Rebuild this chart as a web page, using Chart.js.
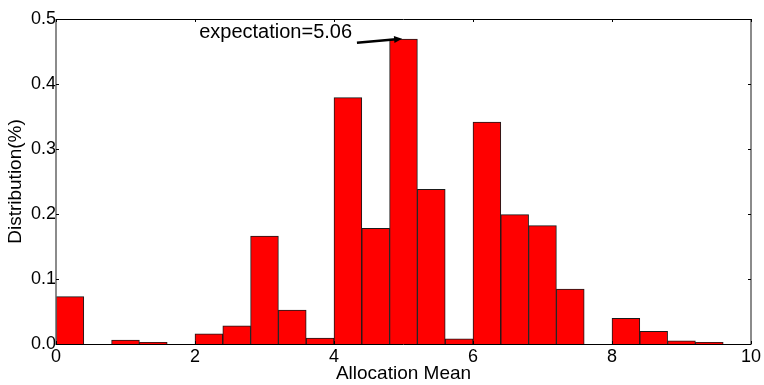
<!DOCTYPE html>
<html>
<head>
<meta charset="utf-8">
<script src="https://cdn.jsdelivr.net/npm/chart.js@4.4.0/dist/chart.umd.min.js"></script>
<style>
  html, body { margin: 0; padding: 0; background: #fff; }
  #wrap { width: 764px; height: 385px; }
</style>
</head>
<body>
<div id="wrap"><canvas id="histChart" width="764" height="385"></canvas></div>
<script>
// histogram bins (centre of each 0.4 wide bin) and their heights
const binCenters = [0.2, 0.6, 1.0, 1.4, 1.8, 2.2, 2.6, 3.0, 3.4, 3.8, 4.2, 4.6, 5.0, 5.4, 5.8, 6.2, 6.6, 7.0, 7.4, 7.8, 8.2, 8.6, 9.0, 9.4, 9.8];
const distribution = [0.073, 0, 0.006, 0.0025, 0, 0.0155, 0.028, 0.166, 0.052, 0.009, 0.379, 0.178, 0.469, 0.238, 0.008, 0.3415, 0.199, 0.182, 0.0845, 0, 0.0395, 0.0195, 0.005, 0.0025, 0];

const xTicks = [0, 2, 4, 6, 8, 10];
const yTicks = [0, 0.1, 0.2, 0.3, 0.4, 0.5];

// annotation, in data units
const expectationText = 'expectation=5.06';
const textPos = { x: 2.06, y: 0.4797 };
const arrowFrom = { x: 4.33, y: 0.4635 };
const arrowTo = { x: 4.98, y: 0.4697 };

Chart.defaults.font.family = '"Liberation Sans", Arial, sans-serif';
Chart.defaults.color = '#000';

const framePlugin = {
    id: 'frame',
    afterDatasetsDraw(chart) {
        const ctx = chart.ctx;
        const a = chart.chartArea;
        const xs = chart.scales.x;
        const ys = chart.scales.y;
        ctx.save();
        ctx.lineWidth = 1;
        // spines
        ctx.strokeStyle = '#000';
        ctx.beginPath();
        ctx.moveTo(a.left, a.top + 0.5);
        ctx.lineTo(a.right, a.top + 0.5);
        ctx.moveTo(a.left, a.bottom + 0.5);
        ctx.lineTo(a.right, a.bottom + 0.5);
        ctx.stroke();
        ctx.strokeStyle = '#666';
        ctx.lineWidth = 1.5;
        ctx.beginPath();
        ctx.moveTo(a.left, a.top);
        ctx.lineTo(a.left, a.bottom + 1);
        ctx.moveTo(a.right, a.top);
        ctx.lineTo(a.right, a.bottom + 1);
        ctx.stroke();
        // inward ticks
        ctx.strokeStyle = '#000';
        ctx.lineWidth = 1;
        ctx.beginPath();
        for (const v of xTicks) {
            const px = Math.round(xs.getPixelForValue(v)) + 0.5;
            ctx.moveTo(px, a.top);
            ctx.lineTo(px, a.top + 3);
            ctx.moveTo(px, a.bottom);
            ctx.lineTo(px, a.bottom - 3);
        }
        for (const v of yTicks) {
            const py = Math.round(ys.getPixelForValue(v)) + 0.5;
            ctx.moveTo(a.left, py);
            ctx.lineTo(a.left + 3, py);
            ctx.moveTo(a.right, py);
            ctx.lineTo(a.right - 3, py);
        }
        ctx.stroke();

        // annotation text + arrow
        ctx.fillStyle = '#000';
        ctx.font = '20px "Liberation Sans", Arial, sans-serif';
        ctx.textAlign = 'left';
        ctx.textBaseline = 'middle';
        ctx.fillText(expectationText, xs.getPixelForValue(textPos.x), ys.getPixelForValue(textPos.y));

        const x0 = xs.getPixelForValue(arrowFrom.x), y0 = ys.getPixelForValue(arrowFrom.y);
        const x1 = xs.getPixelForValue(arrowTo.x), y1 = ys.getPixelForValue(arrowTo.y);
        const ang = Math.atan2(y1 - y0, x1 - x0);
        ctx.lineWidth = 2.5;
        ctx.beginPath();
        ctx.moveTo(x0, y0);
        ctx.lineTo(x1 - 6 * Math.cos(ang), y1 - 6 * Math.sin(ang));
        ctx.stroke();
        ctx.beginPath();
        ctx.moveTo(x1, y1);
        ctx.lineTo(x1 - 8 * Math.cos(ang) + 3.5 * Math.sin(ang), y1 - 8 * Math.sin(ang) - 3.5 * Math.cos(ang));
        ctx.lineTo(x1 - 8 * Math.cos(ang) - 3.5 * Math.sin(ang), y1 - 8 * Math.sin(ang) + 3.5 * Math.cos(ang));
        ctx.closePath();
        ctx.fill();
        ctx.restore();
    }
};

const ctx = document.getElementById('histChart').getContext('2d');
const chart = new Chart(ctx, {
    type: 'bar',
    data: {
        datasets: [{
            data: binCenters.map((c, i) => ({ x: c, y: distribution[i] })),
            backgroundColor: '#ff0000',
            borderColor: '#1a1a1a',
            borderWidth: 1,
            borderSkipped: 'start',
            barPercentage: 1,
            categoryPercentage: 1
        }]
    },
    options: {
        responsive: false,
        animation: false,
        layout: { padding: { top: 19, right: 13, left: 0, bottom: 0 } },
        plugins: {
            legend: { display: false },
            tooltip: { enabled: false }
        },
        scales: {
            x: {
                type: 'linear',
                min: 0,
                max: 10,
                offset: false,
                grid: { display: false, drawTicks: false },
                border: { display: false },
                afterBuildTicks: scale => { scale.ticks = xTicks.map(v => ({ value: v })); },
                ticks: { font: { size: 18 }, padding: 2, maxRotation: 0, autoSkip: false },
                title: {
                    display: true,
                    text: 'Allocation Mean',
                    font: { size: 19 },
                    padding: { top: 0, bottom: 0 }
                },
                afterFit: scale => { scale.height = 41; }
            },
            y: {
                min: 0,
                max: 0.5,
                grid: { display: false, drawTicks: false },
                border: { display: false },
                afterBuildTicks: scale => { scale.ticks = yTicks.map(v => ({ value: v })); },
                ticks: {
                    font: { size: 18 },
                    padding: 0,
                    callback: v => v.toFixed(1)
                },
                title: {
                    display: true,
                    text: 'Distribution(%)',
                    font: { size: 19 },
                    padding: { top: 4, bottom: 0 }
                },
                afterFit: scale => { scale.width = 56; }
            }
        }
    },
    plugins: [framePlugin]
});
</script>
</body>
</html>
